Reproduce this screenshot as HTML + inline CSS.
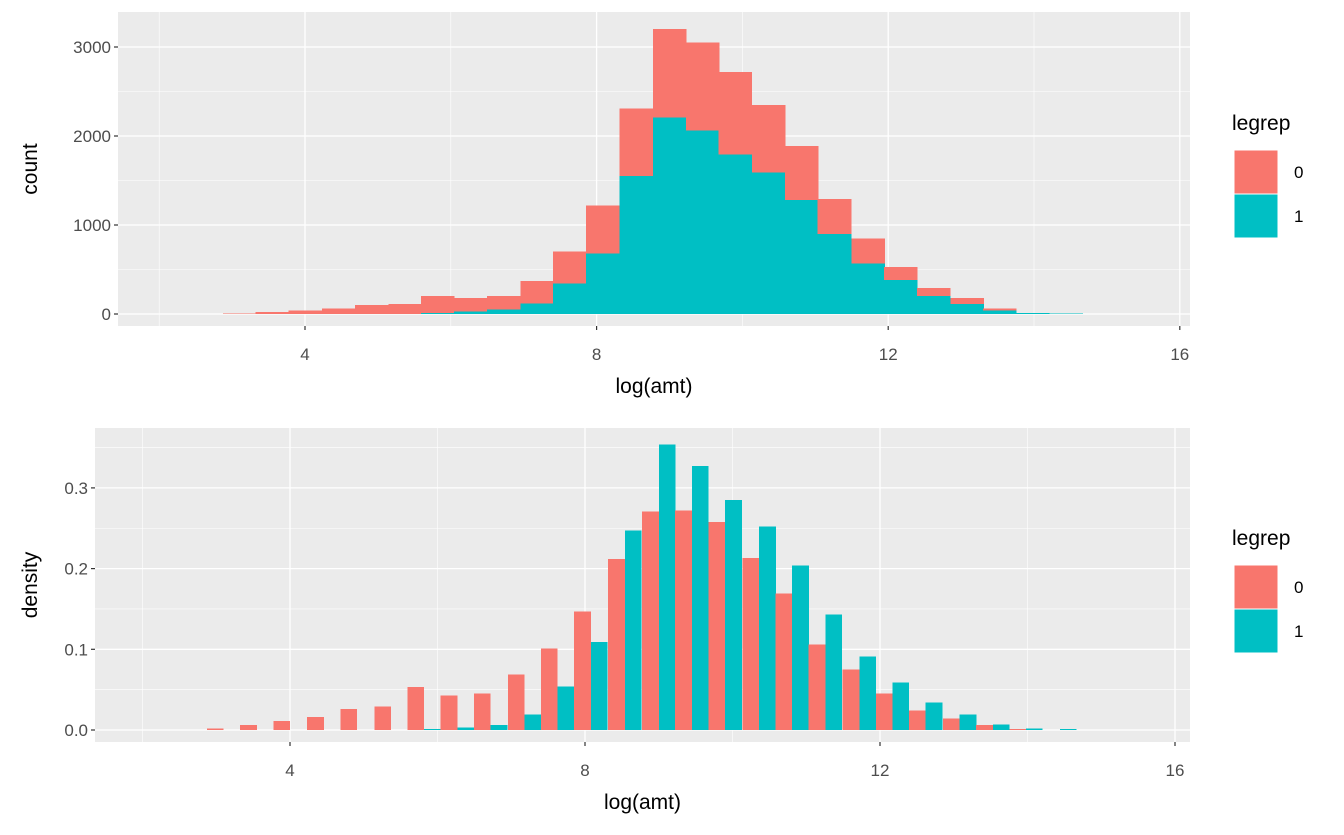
<!DOCTYPE html>
<html><head><meta charset="utf-8"><style>
body{margin:0;background:#fff;font-family:"Liberation Sans",Arial,sans-serif}
svg text{font-family:"Liberation Sans",Arial,sans-serif}
</style></head><body>
<svg id="s" width="1344" height="830" xmlns="http://www.w3.org/2000/svg"></svg>
<script>
const centers=[3.1,3.55,4.0,4.46,4.91,5.37,5.82,6.27,6.72,7.18,7.63,8.08,8.54,9.0,9.45,9.9,10.36,10.81,11.26,11.72,12.17,12.62,13.08,13.53,13.98,14.44];
const totalCounts=[5,20,40,60,100,110,200,180,200,370,700,1220,2310,3200,3050,2720,2350,1890,1290,850,530,290,180,60,10,5];
const tealCounts=[0,0,0,0,0,0,10,30,50,120,340,680,1550,2210,2060,1790,1590,1280,900,570,380,200,110,40,10,5];
const redDensity=[0.002,0.006,0.011,0.016,0.026,0.029,0.053,0.043,0.045,0.069,0.101,0.147,0.212,0.271,0.272,0.258,0.213,0.169,0.106,0.075,0.045,0.024,0.014,0.006,0.001,0];
const tealDensity=[0,0,0,0,0,0,0.001,0.003,0.006,0.019,0.054,0.109,0.247,0.354,0.327,0.285,0.252,0.204,0.143,0.091,0.059,0.034,0.019,0.007,0.002,0.001];
const xTicks=[4,8,12,16];
const countTicks=[0,1000,2000,3000];
const densTicks=[0,0.1,0.2,0.3];
const densLabels=["0.0","0.1","0.2","0.3"];
const BW=0.453,RED="#F8766D",TEAL="#00BFC4";
const S=document.getElementById('s');const NS="http://www.w3.org/2000/svg";
function el(t,a,txt){const e=document.createElementNS(NS,t);for(const k in a)e.setAttribute(k,a[k]);if(txt!=null)e.textContent=txt;S.appendChild(e);return e;}
function panel(P){
 const X=v=>P.x0+v*P.kx, Y=v=>P.y0-v*P.ky;
 let e=el('rect',{x:P.l,y:P.t,width:P.r-P.l,height:P.b-P.t,fill:'#EBEBEB'});
 
 for(let i=0;i<xTicks.length;i++){const m=xTicks[i]-2;if(X(m)>P.l)el('line',{x1:X(m),x2:X(m),y1:P.t,y2:P.b,stroke:'#fff','stroke-width':0.6});}
 for(let i=0;i<P.yt.length;i++){const m=P.yt[i]+P.yt[1]/2;if(Y(m)>P.t)el('line',{x1:P.l,x2:P.r,y1:Y(m),y2:Y(m),stroke:'#fff','stroke-width':0.6});}
 xTicks.forEach(v=>{el('line',{x1:X(v),x2:X(v),y1:P.t,y2:P.b,stroke:'#fff','stroke-width':1.3});
  el('line',{x1:X(v),x2:X(v),y1:P.b,y2:P.b+4,stroke:'#333','stroke-width':1.2});
  let t=el('text',{x:X(v),y:P.b+34,'text-anchor':'middle','font-size':17,fill:'#4D4D4D'},v);
  });
 P.yt.forEach((v,i)=>{el('line',{x1:P.l,x2:P.r,y1:Y(v),y2:Y(v),stroke:'#fff','stroke-width':1.3});
  el('line',{x1:P.l-4,x2:P.l,y1:Y(v),y2:Y(v),stroke:'#333','stroke-width':1.2});
  let t=el('text',{x:P.l-7,y:Y(v)+6,'text-anchor':'end','font-size':17,fill:'#4D4D4D'},P.yl[i]);
  });
 const g=el('g',{'shape-rendering':'crispEdges'});
 P.draw(X,Y,g);
 let t=el('text',{x:(P.l+P.r)/2,y:P.b+67,'text-anchor':'middle','font-size':21,fill:'#000'},'log(amt)');
 
 t=el('text',{x:0,y:0,transform:`translate(${P.yx},${(P.t+P.b)/2}) rotate(-90)`,'text-anchor':'middle','font-size':21,fill:'#000'},P.yn);
 
 t=el('text',{x:1232,y:P.lt,'font-size':21,fill:'#000'},'legrep');
 
 [[RED,'0'],[TEAL,'1']].forEach((c,i)=>{let r=el('rect',{x:1234,y:P.lt+20+i*44,width:44,height:44,fill:c[0],stroke:'#fff','stroke-width':1});
  
  let tt=el('text',{x:1294,y:P.lt+48+i*44,'font-size':17,fill:'#000'},c[1]);
  });
}
function rc(g,a){const e=document.createElementNS(NS,'rect');for(const k in a)e.setAttribute(k,a[k]);g.appendChild(e);return e;}
panel({n:'count',l:118,r:1190,t:12,b:326,x0:13.4,kx:72.9,y0:314,ky:0.089,yt:countTicks,yl:countTicks,yn:'count',yx:37,lt:130,
 draw:(X,Y,g)=>{centers.forEach((c,i)=>{const x1=X(c-BW/2),w=X(c+BW/2)-x1+0.5;
  let r=rc(g,{x:x1,y:Y(totalCounts[i]),width:w,height:Y(tealCounts[i])-Y(totalCounts[i]),fill:RED});
  
  r=rc(g,{x:x1,y:Y(tealCounts[i]),width:w,height:Y(0)-Y(tealCounts[i]),fill:TEAL});
  });}});
panel({n:'density',l:95,r:1190,t:428,b:742,x0:-5,kx:73.75,y0:730,ky:807,yt:densTicks,yl:densLabels,yn:'density',yx:37,lt:545,
 draw:(X,Y,g)=>{centers.forEach((c,i)=>{const x1=X(c-BW/2),xm=X(c),x2=X(c+BW/2);
  let r=rc(g,{x:x1,y:Y(redDensity[i]),width:xm-x1,height:Y(0)-Y(redDensity[i]),fill:RED});
  
  r=rc(g,{x:xm,y:Y(tealDensity[i]),width:x2-xm,height:Y(0)-Y(tealDensity[i]),fill:TEAL});
  });}});
</script>
</body></html>
